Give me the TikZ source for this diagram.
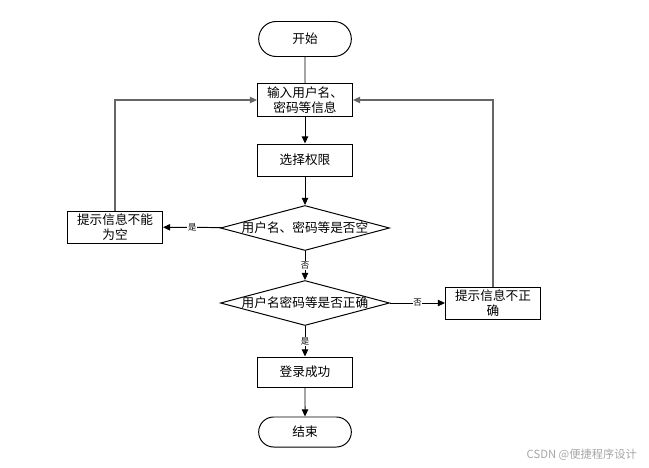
\documentclass[tikz,border=0pt]{standalone}
\usepackage{fontspec}
\setmainfont{Noto Sans CJK SC}
\usetikzlibrary{shapes.geometric,shapes.misc,arrows.meta}
\tikzset{
	terminal/.style={rounded rectangle, draw, minimum width=2.55cm, minimum height=0.8cm},
	process/.style={rectangle, draw, minimum width=2.375cm, minimum height=0.8cm, align=center, inner sep=1pt},
	decision/.style={diamond, draw, minimum width=4.225cm, minimum height=1.125cm, inner sep=0pt},
	flow/.style={-{Triangle[length=5pt,width=4.5pt]}},
	back/.style={flow, draw=black!60, line width=0.9pt},
	tag/.style={font=\fontsize{6}{7}\selectfont, fill=white, inner sep=0.5pt}
}
\begin{document}
\begin{tikzpicture}[x=0.025cm, y=-0.025cm, line width=0.7pt, every node/.style={font=\fontsize{9}{11}\selectfont}]
		\useasboundingbox (0,0) rectangle (649,467);
		
		% Main column
		\node[terminal, minimum height=0.875cm] (start) at (305, 39) {开始};
		\node[process, minimum height=0.825cm] (input) at (305, 100) {输入用户名、\\密码等信息};
		\node[process] (role) at (305, 160) {选择权限};
		\node[decision, label={center:用户名、密码等是否空}] (empty) at (305, 228) {};
		\node[decision, label={center:用户名密码等是否正确}] (check) at (305, 303) {};
		\node[process, minimum height=0.75cm] (success) at (305, 372) {登录成功};
		\node[terminal, minimum height=0.75cm] (stop) at (305, 432) {结束};
		
		% Side boxes
		\node[process] (emptymsg) at (115, 227) {提示信息不能\\为空};
		\node[process] (wrongmsg) at (493, 303) {提示信息不正\\确};
		
		% Connectors
		\draw (start) -- (input);
		\draw[flow] (input) -- (role);
		\draw[flow] (role) -- (empty);
		\draw[flow] (empty) -- (check) node[midway, tag] {否};
		\draw[flow] (check) -- (success) node[midway, tag] {是};
		\draw[flow] (success) -- (stop);
		\draw[flow] (empty) -- (emptymsg) node[midway, tag] {是};
		\draw[flow] (check) -- (wrongmsg) node[midway, tag] {否};
		
		% Back to input
		\draw[back] (emptymsg.north) |- (input.west);
		\draw[back] (wrongmsg.north) |- (input.east);
		
		% Watermark
		\node[anchor=east, text=black!35, font=\fontsize{8}{9}\selectfont] (mark) at (642, 455) {CSDN @便捷程序设计};
	\end{tikzpicture}
\end{document}
